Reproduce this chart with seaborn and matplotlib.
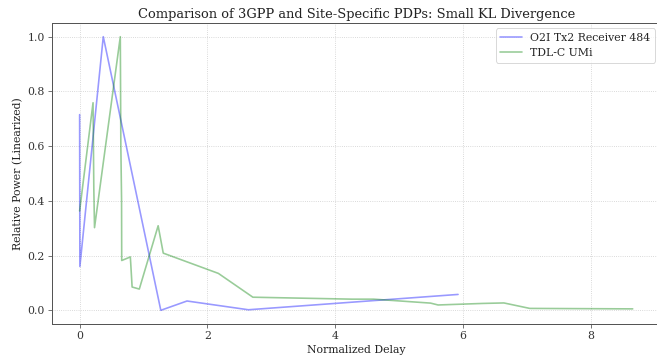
import numpy as np
import pandas as pd
import matplotlib
matplotlib.use("Agg")
import matplotlib.pyplot as plt
import seaborn as sns

# Site-specific PDP (O2I Tx2 Receiver 484)
o2i_delay = [0.0, 0.004, 0.37, 1.27, 1.68, 2.64, 5.92]
o2i_power = [0.715, 0.16, 1.0, 0.0, 0.034, 0.002, 0.058]

# 3GPP TDL-C UMi
tdl_delay = [0.0, 0.2099, 0.2219, 0.2329, 0.2176, 0.6366, 0.6448, 0.6560,
             0.6584, 0.7935, 0.8213, 0.9336, 1.2285, 1.3083, 2.1704, 2.7105,
             4.2589, 4.6003, 5.4902, 5.6077, 6.3065, 6.6374, 7.0427, 8.6523]
tdl_power_db = [-4.4, -1.2, -3.5, -5.2, -2.5, 0.0, -2.2, -3.9, -7.4, -7.1,
                -10.7, -11.1, -5.1, -6.8, -8.7, -13.2, -13.9, -13.9, -15.8,
                -17.1, -16.0, -15.7, -21.6, -22.8]
tdl_power = list(10 ** (np.array(tdl_power_db) / 10))

labels = ["O2I Tx2 Receiver 484", "TDL-C UMi"]

sns.set_style("white")
plt.rcParams["font.family"] = ["DejaVu Serif"]

fig = plt.figure(figsize=(10, 5.51), dpi=65.7)
ax = fig.add_axes([0.0791, 0.105, 0.926, 0.8315])

df1 = pd.DataFrame({"delay": o2i_delay, "power": o2i_power})
df2 = pd.DataFrame({"delay": tdl_delay, "power": tdl_power})
sns.lineplot(data=df1, x="delay", y="power", ax=ax, color="blue", alpha=0.4,
             estimator=None, label=labels[0], linewidth=1.8)
sns.lineplot(data=df2, x="delay", y="power", ax=ax, color="green", alpha=0.4,
             estimator=None, label=labels[1], linewidth=1.8)

ax.set_title("Comparison of 3GPP and Site-Specific PDPs: Small KL Divergence",
             fontsize=14.3, color="#222222")
ax.set_xlabel("Normalized Delay", fontsize=11.9, color="#222222")
ax.set_ylabel("Relative Power (Linearized)", fontsize=11.9, color="#222222")
ax.set_xticks([0, 2, 4, 6, 8])
ax.set_yticks([0.0, 0.2, 0.4, 0.6, 0.8, 1.0])
ax.grid(True, linestyle=":", color="#cccccc", linewidth=0.9)
ax.tick_params(axis="both", which="both", left=True, bottom=True, length=4.5,
               color="#444444", labelcolor="#333333", labelsize=11.9)
for s in ax.spines.values():
    s.set_color("#555555")
    s.set_linewidth(1.1)
ax.spines["right"].set_visible(False)
ax.legend(loc="upper right", fontsize=11.9, frameon=True, edgecolor="#cccccc")

fig.savefig("out.png", dpi=65.7)
